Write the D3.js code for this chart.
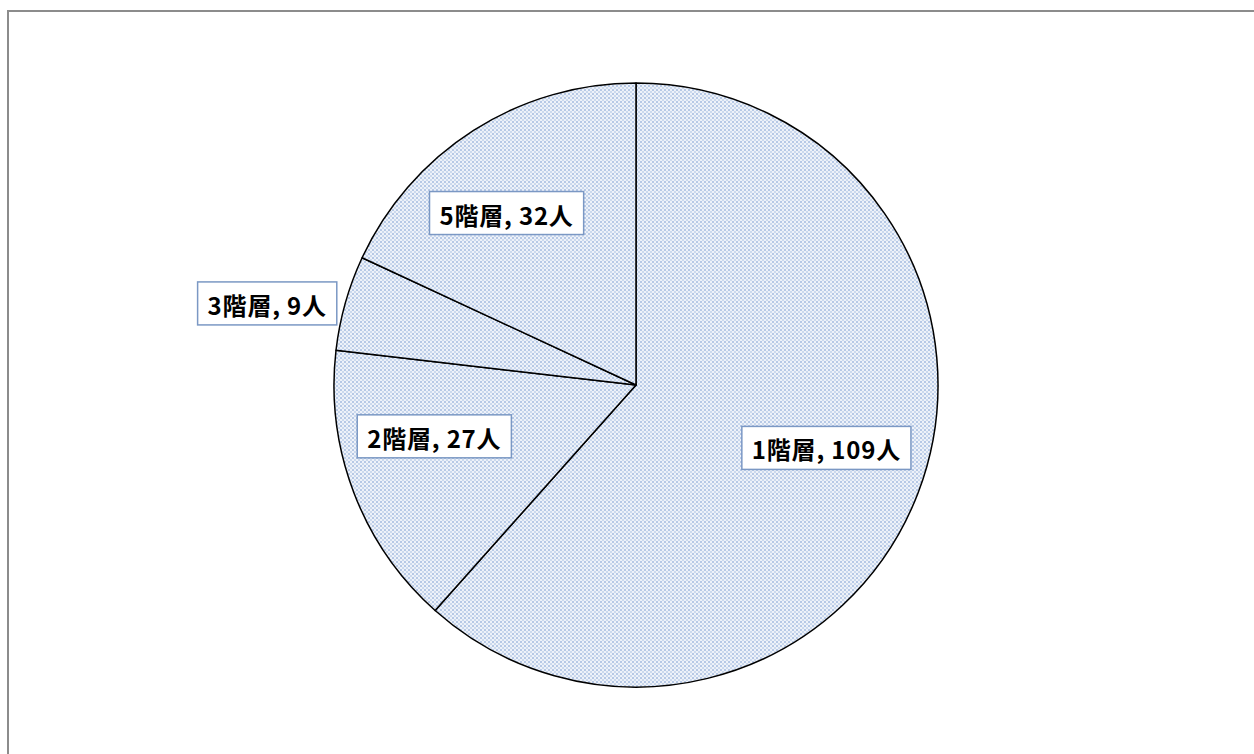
<!DOCTYPE html>
<html><head><meta charset="utf-8">
<script src="https://cdn.jsdelivr.net/npm/d3@7/dist/d3.min.js"></script>
<style>html,body{margin:0;padding:0;background:#fff;}svg{display:block;}</style>
</head><body>
<svg id="chart" width="1254" height="754"></svg>
<script>
const categories = ["1階層", "2階層", "3階層", "5階層"];
const values = [109, 27, 9, 32];
const unit = "人";

// label placement parameters (relative to slice mid-angle, in fractions of radius / radians)
const labelRadius = [0.665, 0.69, 1.25, 0.71];
const labelAngleShift = [-0.04, 0.11, -0.06, -0.08];

const W = 1254, H = 754;
const cx = 636, cy = 385, R = 302;

const svg = d3.select("#chart");
const defs = svg.append("defs");
const pat = defs.append("pattern").attr("id", "dots").attr("patternUnits", "userSpaceOnUse")
  .attr("width", 4).attr("height", 4);
pat.append("rect").attr("width", 4).attr("height", 4).attr("fill", "#eef2f9");
pat.append("circle").attr("cx", 1).attr("cy", 1).attr("r", 0.95).attr("fill", "#9fb8de");
pat.append("circle").attr("cx", 3).attr("cy", 3).attr("r", 0.95).attr("fill", "#bccee9");

// outer frame
svg.append("rect").attr("x", 8).attr("y", 11).attr("width", W + 20).attr("height", H + 20)
  .attr("fill", "#fff").attr("stroke", "#8c8c8c").attr("stroke-width", 2);

const pie = d3.pie().sort(null).value(d => d).startAngle(0).endAngle(2 * Math.PI);
const arcs = pie(values);
const arc = d3.arc().innerRadius(0).outerRadius(R);

const g = svg.append("g").attr("transform", `translate(${cx},${cy})`);
g.selectAll("path.slice").data(arcs).enter().append("path")
  .attr("class", "slice")
  .attr("d", arc)
  .attr("fill", "url(#dots)")
  .attr("stroke", "#000")
  .attr("stroke-width", 1.5)
  .attr("stroke-linejoin", "round");

const labels = g.selectAll("g.lab").data(arcs).enter().append("g").attr("class", "lab")
  .attr("transform", (d, i) => {
    const a = (d.startAngle + d.endAngle) / 2 + labelAngleShift[i];
    const r = R * labelRadius[i];
    return `translate(${Math.sin(a) * r},${-Math.cos(a) * r})`;
  });

labels.each(function(d, i) {
  const gg = d3.select(this);
  const t = gg.append("text")
    .attr("text-anchor", "middle")
    .attr("dominant-baseline", "central")
    .attr("font-family", "'Noto Sans CJK JP', 'Noto Sans', sans-serif")
    .attr("font-weight", "bold")
    .attr("font-size", 24)
    .attr("letter-spacing", 0.8)
    .attr("fill", "#000")
    .text(`${categories[i]}, ${values[i]}${unit}`);
  const bb = t.node().getBBox();
  const padX = 10, padY = 7;
  gg.insert("rect", "text")
    .attr("x", bb.x - padX).attr("y", -bb.height / 2 - padY + 2)
    .attr("width", bb.width + 2 * padX).attr("height", bb.height + 2 * padY - 6)
    .attr("fill", "#fff").attr("stroke", "#7b98c4").attr("stroke-width", 1.5);
});
</script>
</body></html>
